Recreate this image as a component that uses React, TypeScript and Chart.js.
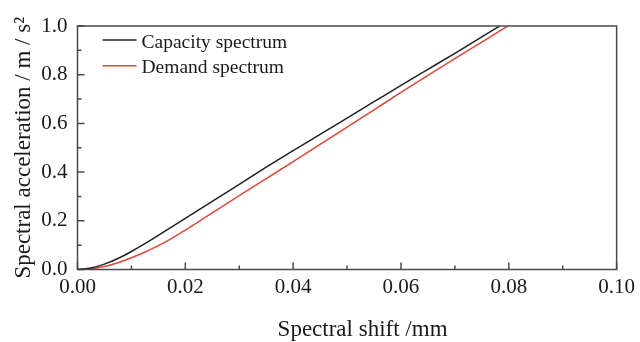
import { useEffect, useRef } from "react";
import { Chart, registerables } from "chart.js";

Chart.register(...registerables);

const capacityShift = [0, 0.0025, 0.005, 0.0075, 0.01, 0.0125, 0.015, 0.0175, 0.02, 0.025, 0.03, 0.035, 0.04, 0.045, 0.05, 0.055, 0.06, 0.065, 0.07, 0.075, 0.0783];
const capacityAccel = [0, 0.006, 0.022, 0.045, 0.074, 0.106, 0.14, 0.175, 0.21, 0.28, 0.35, 0.42, 0.488, 0.555, 0.622, 0.689, 0.756, 0.822, 0.888, 0.955, 1.0];
const demandShift = [0, 0.0025, 0.005, 0.0075, 0.01, 0.0125, 0.015, 0.0175, 0.02, 0.0225, 0.025, 0.03, 0.035, 0.04, 0.045, 0.05, 0.055, 0.06, 0.065, 0.07, 0.075, 0.0798];
const demandAccel = [0, 0.003, 0.012, 0.028, 0.048, 0.072, 0.098, 0.128, 0.162, 0.197, 0.233, 0.303, 0.373, 0.443, 0.514, 0.585, 0.656, 0.727, 0.797, 0.866, 0.934, 1.0];

const xTicks = [0, 0.02, 0.04, 0.06, 0.08, 0.1];
const yTicks = [0, 0.2, 0.4, 0.6, 0.8, 1.0];

const seriesLabels = ["Capacity spectrum", "Demand spectrum"];
const xTitle = "Spectral shift /mm";
const yTitle = "Spectral acceleration / m / s\u00B2";

const FONT = '"Liberation Serif", "Times New Roman", serif';
const AXIS = "#4a4a4a";
const TEXT = "#1a1a1a";
const COLORS = ["#222222", "#e0483c"];

const framePlugin = {
  id: "frame",
  afterDatasetsDraw(chart: any) {
    const { ctx, chartArea: a, scales } = chart;
    const xs = scales.x;
    const ys = scales.y;
    ctx.save();
    ctx.strokeStyle = AXIS;
    ctx.lineWidth = 1.5;
    ctx.strokeRect(a.left, a.top, a.right - a.left, a.bottom - a.top);
    ctx.beginPath();
    for (let i = 0; i < xTicks.length; i++) {
      const px = xs.getPixelForValue(xTicks[i]);
      ctx.moveTo(px, a.bottom);
      ctx.lineTo(px, a.bottom - 7);
      if (i < xTicks.length - 1) {
        const m = xs.getPixelForValue((xTicks[i] + xTicks[i + 1]) / 2);
        ctx.moveTo(m, a.bottom);
        ctx.lineTo(m, a.bottom - 4);
      }
    }
    for (let i = 0; i < yTicks.length; i++) {
      const py = ys.getPixelForValue(yTicks[i]);
      ctx.moveTo(a.left, py);
      ctx.lineTo(a.left + 7, py);
      if (i < yTicks.length - 1) {
        const m = ys.getPixelForValue((yTicks[i] + yTicks[i + 1]) / 2);
        ctx.moveTo(a.left, m);
        ctx.lineTo(a.left + 4, m);
      }
    }
    ctx.stroke();

    // legend
    ctx.font = `19.5px ${FONT}`;
    ctx.textBaseline = "alphabetic";
    ctx.textAlign = "left";
    chart.data.datasets.forEach((ds: any, i: number) => {
      const ly = a.top + 14 + i * 25.7;
      ctx.strokeStyle = ds.borderColor;
      ctx.lineWidth = 1.5;
      ctx.beginPath();
      ctx.moveTo(a.left + 25, ly);
      ctx.lineTo(a.left + 59, ly);
      ctx.stroke();
      ctx.fillStyle = TEXT;
      ctx.fillText(ds.label, a.left + 64, ly + 7.5);
    });

    // axis titles
    ctx.font = `23px ${FONT}`;
    ctx.fillStyle = TEXT;
    ctx.textAlign = "center";
    ctx.textBaseline = "alphabetic";
    ctx.fillText(xTitle, (a.left + a.right) / 2 + 15.5, 336);
    ctx.translate(30, (a.top + a.bottom) / 2);
    ctx.rotate(-Math.PI / 2);
    ctx.fillText(yTitle, 0, 0);
    ctx.restore();
  },
};

export default function App() {
  const ref = useRef<HTMLCanvasElement | null>(null);
  useEffect(() => {
    document.body.style.margin = "0";
    const canvas = ref.current!;
    const chart = new Chart(canvas, {
      type: "line",
      data: {
        datasets: [
          {
            label: seriesLabels[0],
            data: capacityShift.map((x, i) => ({ x, y: capacityAccel[i] })),
            borderColor: COLORS[0],
            borderWidth: 1.5,
            pointRadius: 0,
            cubicInterpolationMode: "monotone",
            fill: false,
          },
          {
            label: seriesLabels[1],
            data: demandShift.map((x, i) => ({ x, y: demandAccel[i] })),
            borderColor: COLORS[1],
            borderWidth: 1.5,
            pointRadius: 0,
            cubicInterpolationMode: "monotone",
            fill: false,
          },
        ],
      },
      options: {
        responsive: false,
        animation: false,
        layout: { padding: { top: 26, right: 20.5, left: 0, bottom: 0 } },
        plugins: { legend: { display: false }, tooltip: { enabled: false } },
        scales: {
          x: {
            type: "linear",
            min: 0,
            max: 0.1,
            grid: { display: false, drawTicks: false },
            border: { display: false },
            afterBuildTicks: (s: any) => {
              s.ticks = xTicks.map((v) => ({ value: v }));
            },
            afterFit: (s: any) => {
              s.height = 72.5;
            },
            ticks: {
              padding: 5,
              color: TEXT,
              font: { family: FONT, size: 21 },
              maxRotation: 0,
              callback: (v: any) => Number(v).toFixed(2),
            },
          },
          y: {
            type: "linear",
            min: 0,
            max: 1,
            grid: { display: false, drawTicks: false },
            border: { display: false },
            afterBuildTicks: (s: any) => {
              s.ticks = yTicks.map((v) => ({ value: v }));
            },
            afterFit: (s: any) => {
              s.width = 77.5;
            },
            ticks: {
              padding: 10,
              color: TEXT,
              font: { family: FONT, size: 21 },
              callback: (v: any) => Number(v).toFixed(1),
            },
          },
        },
      },
      plugins: [framePlugin],
    } as any);
    return () => chart.destroy();
  }, []);
  return (
    <div style={{ width: 640, height: 342 }}>
      <canvas ref={ref} width={640} height={342} />
    </div>
  );
}
